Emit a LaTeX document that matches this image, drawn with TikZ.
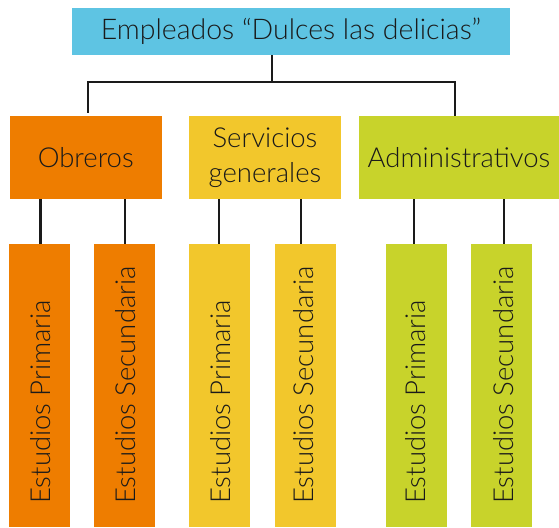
\documentclass[tikz,border=0pt]{standalone}
\usepackage{fontspec}
\setmainfont{Lato}[UprightFont={* Light}]
\definecolor{cyanbox}{HTML}{5EC4E3}
\definecolor{orangebox}{HTML}{EE7D00}
\definecolor{yellowbox}{HTML}{F2C72C}
\definecolor{greenbox}{HTML}{C8D32B}
\definecolor{ink}{HTML}{1A1A1A}
\begin{document}
\begin{tikzpicture}[x=1pt,y=-1pt,
  box/.style={draw=none, inner sep=0pt, align=center, font=\fontsize{27.5}{35}\selectfont, text=ink},
  sub/.style={draw=none, inner sep=0pt, minimum width=60.6pt, minimum height=283pt},
  vtext/.style={rotate=90, anchor=west, inner sep=0pt, font=\fontsize{27.5}{35}\selectfont, text=ink},
  conn/.style={line width=2.6pt, draw=ink}]
\useasboundingbox (0,0) rectangle (559,527);
\fill[white] (0,0) rectangle (559,527);

\node[box, fill=cyanbox, minimum width=438pt, minimum height=47pt, font=\fontsize{28.5}{35}\selectfont] (root) at (291,31.5) {Empleados “Dulces las delicias”};

\node[box, fill=orangebox, minimum width=151.5pt, minimum height=83pt] (obr) at (85.75,157.5) {Obreros};
\node[box, fill=yellowbox, minimum width=152pt, minimum height=83pt] (serv) at (265,157.5) {Servicios\\generales};
\node[box, fill=greenbox, minimum width=200pt, minimum height=83pt] (adm) at (459,157.5) {Administrativos};

\coordinate (jm) at (272,82);
\coordinate (jl) at (88,82);
\coordinate (jr) at (455,82);
\draw[conn] (root.south -| jm) -- (jm);
\draw[conn, shorten <=3pt] (obr.north -| jl) -- (jl) -- (jr) -- (adm.north -| jr);

\node[sub, fill=orangebox] (o1) at (39.2,385.5) {};
\node[sub, fill=orangebox] (o2) at (124.4,385.5) {};
\node[sub, fill=yellowbox] (s1) at (219.3,385.5) {};
\node[sub, fill=yellowbox] (s2) at (305.3,385.5) {};
\node[sub, fill=greenbox] (a1) at (416.3,385.5) {};
\node[sub, fill=greenbox] (a2) at (501.3,385.5) {};

\node[vtext] (o1t) at (40.5,504) {Estudios Primaria};
\node[vtext] (o2t) at (125.5,504) {Estudios Secundaria};
\node[vtext] (s1t) at (220.5,504) {Estudios Primaria};
\node[vtext] (s2t) at (303.5,504) {Estudios Secundaria};
\node[vtext] (a1t) at (416,504) {Estudios Primaria};
\node[vtext] (a2t) at (503.5,504) {Estudios Secundaria};

\coordinate (c1) at (40.6,0);
\coordinate (c2) at (124.8,0);
\coordinate (c3) at (219,0);
\coordinate (c4) at (301,0);
\coordinate (c5) at (414,0);
\coordinate (c6) at (504,0);
\draw[conn] (o1.north -| c1) -- (obr.south -| c1);
\draw[conn] (o2.north -| c2) -- (obr.south -| c2);
\draw[conn] (s1.north -| c3) -- (serv.south -| c3);
\draw[conn] (s2.north -| c4) -- (serv.south -| c4);
\draw[conn] (a1.north -| c5) -- (adm.south -| c5);
\draw[conn] (a2.north -| c6) -- (adm.south -| c6);
\end{tikzpicture}
\end{document}
